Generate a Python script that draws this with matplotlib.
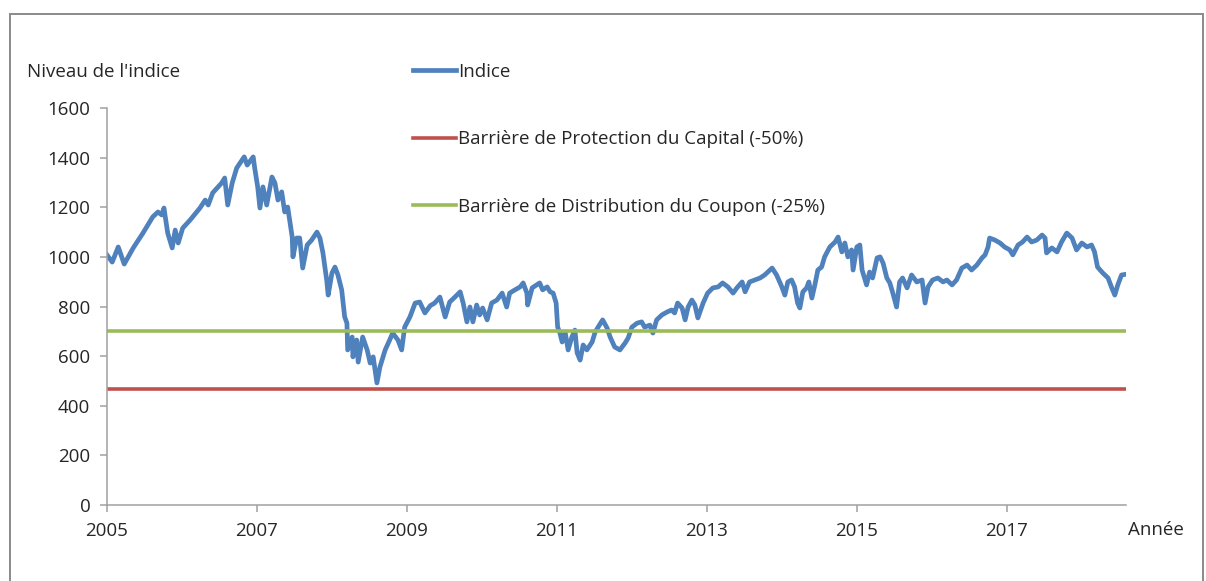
import matplotlib
matplotlib.use("Agg")
import matplotlib.pyplot as plt
from matplotlib.patches import Rectangle

plt.rcParams['font.family'] = ['Open Sans', 'DejaVu Sans']

# index level (decimal years)
annee = [2005.00, 2005.07, 2005.15, 2005.23, 2005.35, 2005.48, 2005.61, 2005.68, 2005.73, 2005.76,
         2005.81, 2005.87, 2005.91, 2005.95, 2006.01, 2006.11, 2006.24, 2006.31, 2006.35, 2006.41,
         2006.53, 2006.57, 2006.61, 2006.67, 2006.73, 2006.83, 2006.87, 2006.95, 2006.97, 2007.01,
         2007.04, 2007.08, 2007.13, 2007.20, 2007.24, 2007.28, 2007.33, 2007.37, 2007.41, 2007.47,
         2007.48, 2007.53, 2007.57, 2007.61, 2007.67, 2007.73, 2007.80, 2007.84, 2007.88, 2007.93,
         2007.95, 2008.00, 2008.04, 2008.08, 2008.13, 2008.17, 2008.20, 2008.21, 2008.27, 2008.28,
         2008.33, 2008.35, 2008.41, 2008.47, 2008.51, 2008.55, 2008.60, 2008.64, 2008.71, 2008.77,
         2008.81, 2008.88, 2008.93, 2008.97, 2009.04, 2009.11, 2009.17, 2009.24, 2009.31, 2009.37,
         2009.44, 2009.51, 2009.57, 2009.64, 2009.71, 2009.75, 2009.80, 2009.84, 2009.88, 2009.93,
         2009.97, 2010.01, 2010.07, 2010.13, 2010.20, 2010.27, 2010.33, 2010.37, 2010.44, 2010.51,
         2010.55, 2010.60, 2010.61, 2010.67, 2010.73, 2010.77, 2010.81, 2010.87, 2010.91, 2010.95,
         2010.99, 2011.01, 2011.04, 2011.07, 2011.11, 2011.15, 2011.20, 2011.24, 2011.27, 2011.31,
         2011.35, 2011.40, 2011.47, 2011.51, 2011.55, 2011.61, 2011.67, 2011.71, 2011.77, 2011.84,
         2011.91, 2011.95, 2012.00, 2012.07, 2012.13, 2012.17, 2012.24, 2012.28, 2012.33, 2012.40,
         2012.47, 2012.53, 2012.57, 2012.61, 2012.67, 2012.71, 2012.75, 2012.80, 2012.84, 2012.88,
         2012.95, 2013.01, 2013.08, 2013.15, 2013.21, 2013.28, 2013.35, 2013.40, 2013.47, 2013.51,
         2013.57, 2013.64, 2013.71, 2013.77, 2013.87, 2013.93, 2014.00, 2014.04, 2014.08, 2014.13,
         2014.17, 2014.21, 2014.24, 2014.28, 2014.33, 2014.36, 2014.40, 2014.44, 2014.48, 2014.53,
         2014.57, 2014.64, 2014.71, 2014.75, 2014.80, 2014.84, 2014.88, 2014.93, 2014.95, 2015.00,
         2015.04, 2015.07, 2015.11, 2015.13, 2015.17, 2015.21, 2015.27, 2015.31, 2015.35, 2015.40,
         2015.44, 2015.48, 2015.53, 2015.57, 2015.61, 2015.67, 2015.73, 2015.80, 2015.87, 2015.91,
         2015.95, 2016.01, 2016.08, 2016.15, 2016.20, 2016.27, 2016.33, 2016.40, 2016.47, 2016.53,
         2016.60, 2016.67, 2016.71, 2016.75, 2016.77, 2016.84, 2016.91, 2016.97, 2017.04, 2017.08,
         2017.15, 2017.21, 2017.27, 2017.33, 2017.40, 2017.47, 2017.51, 2017.53, 2017.60, 2017.67,
         2017.73, 2017.80, 2017.87, 2017.93, 2018.00, 2018.07, 2018.13, 2018.17, 2018.21, 2018.28,
         2018.35, 2018.40, 2018.44, 2018.48, 2018.53, 2018.59]

indice = [1008, 979, 1040, 971, 1036, 1096, 1161, 1181, 1169, 1197,
          1096, 1036, 1108, 1056, 1116, 1149, 1197, 1229, 1209, 1258,
          1298, 1318, 1209, 1298, 1358, 1403, 1370, 1403, 1358, 1282,
          1197, 1282, 1209, 1322, 1298, 1229, 1262, 1181, 1201, 1080,
          1000, 1076, 1076, 955, 1048, 1068, 1100, 1076, 1016, 907,
          846, 935, 959, 927, 867, 758, 733, 625, 677, 597,
          665, 576, 677, 625, 572, 597, 492, 556, 625, 665,
          693, 665, 625, 717, 758, 814, 818, 774, 803, 814,
          838, 758, 818, 838, 859, 814, 738, 798, 738, 806,
          766, 794, 746, 814, 826, 854, 798, 854, 867, 879,
          895, 854, 806, 875, 887, 895, 867, 879, 859, 854,
          814, 717, 693, 657, 697, 625, 677, 705, 613, 584,
          645, 625, 657, 697, 717, 746, 713, 677, 637, 625,
          653, 673, 717, 733, 738, 717, 725, 693, 746, 766,
          778, 786, 774, 814, 794, 746, 798, 826, 806, 754,
          814, 854, 875, 879, 895, 879, 854, 875, 899, 859,
          899, 907, 915, 927, 955, 927, 879, 846, 899, 907,
          879, 814, 794, 859, 875, 899, 834, 887, 947, 959,
          1000, 1040, 1060, 1080, 1020, 1056, 1000, 1028, 947, 1040,
          1048, 947, 907, 887, 939, 915, 996, 1000, 975, 915,
          895, 854, 798, 899, 915, 875, 927, 899, 907, 814,
          879, 907, 915, 899, 907, 887, 907, 955, 967, 947,
          967, 996, 1008, 1040, 1076, 1068, 1056, 1040, 1028, 1008,
          1048, 1060, 1080, 1060, 1068, 1088, 1076, 1016, 1036, 1020,
          1060, 1096, 1076, 1028, 1056, 1040, 1048, 1020, 959, 935,
          915, 875, 846, 887, 927, 930]

barriere_capital = 468
barriere_coupon = 702
annees_ticks = [2005, 2007, 2009, 2011, 2013, 2015, 2017]

fig = plt.figure(figsize=(12.06, 5.81), dpi=100)
ax = fig.add_axes([0.0887, 0.1308, 0.845, 0.6833])

ax.plot(annee, indice, color='#4F81BD', linewidth=3.4, label='Indice', solid_joinstyle='round')
ax.plot([annee[0], annee[-1]], [barriere_capital] * 2, color='#C0504D', linewidth=2.6,
        label='Barrière de Protection du Capital (-50%)')
ax.plot([annee[0], annee[-1]], [barriere_coupon] * 2, color='#9BBB59', linewidth=2.6,
        label='Barrière de Distribution du Coupon (-25%)')

ax.set_xlim(annee[0], annee[-1])
ax.set_ylim(0, 1600)
ax.set_yticks(range(0, 1601, 200))
ax.set_xticks(annees_ticks)
ax.set_xticklabels([str(a) for a in annees_ticks])

for s in ['top', 'right']:
    ax.spines[s].set_visible(False)
for s in ['left', 'bottom']:
    ax.spines[s].set_color('#a0a0a0')
    ax.spines[s].set_linewidth(1.1)
ax.tick_params(axis='both', direction='out', length=5, width=1.1, color='#a0a0a0',
               labelsize=13.5, labelcolor='#262626', pad=7)

fig.text(0.0224, 0.876, "Niveau de l'indice", fontsize=13.5, color='#262626', va='center', ha='left')
fig.text(0.935, 0.0878, "Année", fontsize=13.5, color='#262626', va='center', ha='left')

fig.legend(loc='upper left', bbox_to_anchor=(0.3425, 0.8916), frameon=False, fontsize=13.5,
           handlelength=2.3, handletextpad=0.1, labelspacing=2.63, borderpad=0, borderaxespad=0,
           labelcolor='#262626')

# outer chart frame
fig.patches.append(Rectangle((10 / 1206, -0.1), 1193 / 1206, 1.1 - 14 / 581, transform=fig.transFigure,
                             fill=False, edgecolor='#8a8a8a', linewidth=1.4))

fig.savefig('out.png', dpi=100)
